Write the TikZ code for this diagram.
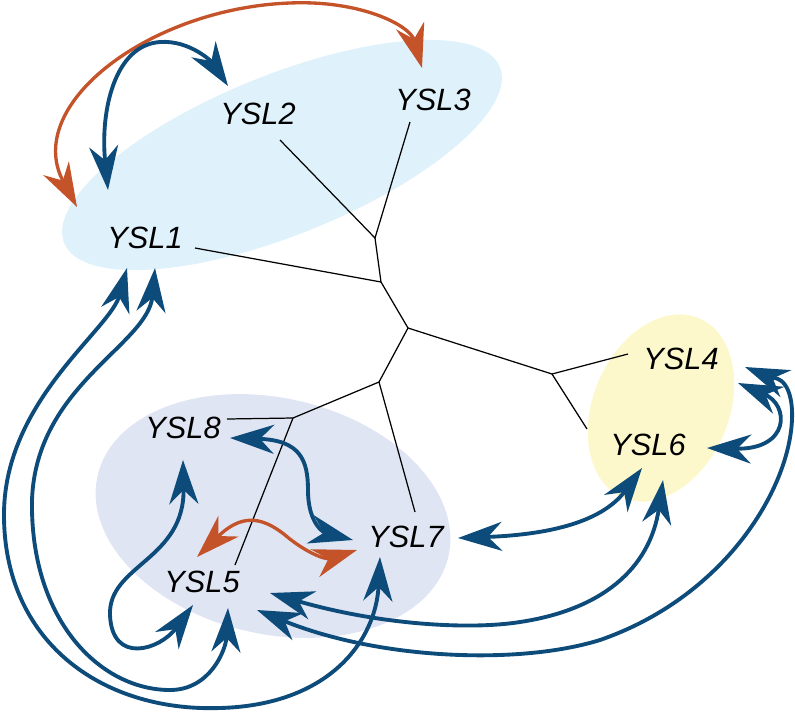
\documentclass[tikz,border=0pt]{standalone}
\usepackage{fontspec}
\setmainfont{Liberation Sans}
\usetikzlibrary{arrows.meta}
\definecolor{linkblue}{HTML}{0D4B7B}
\definecolor{linkorange}{HTML}{C4532A}
\definecolor{skyfill}{HTML}{DFF1FB}
\definecolor{lavfill}{HTML}{E0E5F3}
\definecolor{yelfill}{HTML}{FDF8CC}
\begin{document}
\begin{tikzpicture}[x=0.02cm,y=-0.02cm,
        >={Stealth[length=0.88cm,width=0.58cm,inset=0.28cm]},
        lab/.style={font=\itshape\fontsize{17.5}{21}\selectfont,inner sep=1pt},
        branch/.style={black,line width=0.7pt},
        blink/.style={<->,linkblue,line width=2.2pt},
        olink/.style={<->,linkorange,line width=1.9pt}]
    \useasboundingbox (0,0) rectangle (795,714);
    \fill[skyfill,rotate around={22:(282,155)}] (282,155) ellipse [x radius=4.7cm,y radius=1.6cm];
    \fill[lavfill,rotate around={-13:(273,516)}] (273,516) ellipse [x radius=3.6cm,y radius=2.36cm];
    \fill[yelfill,rotate around={67:(661,408)}] (661,408) ellipse [x radius=1.95cm,y radius=1.36cm];
    \node[lab] (ysl1) at (145,238) {YSL1};
    \node[lab] (ysl2) at (258,114) {YSL2};
    \node[lab] (ysl3) at (433,100) {YSL3};
    \node[lab] (ysl4) at (681,359) {YSL4};
    \node[lab] (ysl6) at (648,445) {YSL6};
    \node[lab] (ysl7) at (406,537) {YSL7};
    \node[lab] (ysl8) at (183,428) {YSL8};
    \node[lab] (ysl5) at (202,582) {YSL5};
    \coordinate (jA) at (375,238);
    \coordinate (jB) at (381,282);
    \coordinate (jC) at (408,328);
    \coordinate (jD) at (552,374);
    \coordinate (jE) at (379,382);
    \coordinate (jF) at (293,418);
    \draw[branch] ([shift={(22,26)}]ysl2.center) -- (jA) -- ([shift={(-23,22)}]ysl3.center);
    \draw[branch] (jA) -- (jB) -- (jC) -- (jE) -- (jF);
    \draw[branch] ([shift={(50,10)}]ysl1.center) -- (jB);
    \draw[branch] (jC) -- (jD) -- ([shift={(-53,-5)}]ysl4.center);
    \draw[branch] (jD) -- ([shift={(-61,-16)}]ysl6.center);
    \draw[branch] (jE) -- ([shift={(9,-25)}]ysl7.center);
    \draw[branch] ([shift={(44,-9)}]ysl8.center) -- (jF) -- ([shift={(33,-17)}]ysl5.center);
    \draw[olink] ([shift={(-68,-31)}]ysl1.center) .. controls (22,105) and (150,8) .. (290,3)
        .. controls (360,0) and (410,25) .. ([shift={(-11,-32)}]ysl3.center);
    \draw[blink] ([shift={(-37,-48)}]ysl1.center) .. controls (100,110) and (115,45) .. (160,42)
        .. controls (190,40) and (212,62) .. ([shift={(-30,-28)}]ysl2.center);
    \draw[blink] ([shift={(-18,30)}]ysl1.center) .. controls (110,330) and (5,400) .. (4,513)
        .. controls (3,640) and (100,712) .. (220,708)
        .. controls (330,705) and (376,640) .. ([shift={(-26,20)}]ysl7.center);
    \draw[blink] ([shift={(10,30)}]ysl1.center) .. controls (148,345) and (36,385) .. (32,500)
        .. controls (30,620) and (100,690) .. (170,690)
        .. controls (210,690) and (226,650) .. ([shift={(26,26)}]ysl5.center);
    \draw[blink] ([shift={(0,32)}]ysl8.center) .. controls (185,560) and (108,565) .. (110,615)
        .. controls (112,665) and (160,650) .. ([shift={(-9,23)}]ysl5.center);
    \draw[blink] ([shift={(47,10)}]ysl8.center) .. controls (300,440) and (308,460) .. (308,490)
        .. controls (308,525) and (325,533) .. ([shift={(-53,3)}]ysl7.center);
    \draw[olink] ([shift={(-5,-25)}]ysl5.center) .. controls (240,515) and (260,515) .. (285,535)
        .. controls (305,552) and (325,560) .. ([shift={(-49,13)}]ysl7.center);
    \draw[blink] ([shift={(52,1)}]ysl7.center) .. controls (540,535) and (600,525) .. ([shift={(-6,23)}]ysl6.center);
    \draw[blink] ([shift={(68,11)}]ysl5.center) .. controls (380,625) and (470,630) .. (520,622)
        .. controls (600,610) and (650,570) .. ([shift={(15,35)}]ysl6.center);
    \draw[blink] ([shift={(55,28)}]ysl5.center) .. controls (380,660) and (520,665) .. (600,640)
        .. controls (730,595) and (795,480) .. (792,410)
        .. controls (790,375) and (772,378) .. ([shift={(64,8)}]ysl4.center);
    \draw[blink] ([shift={(57,24)}]ysl4.center) .. controls (790,405) and (790,450) .. ([shift={(59,3)}]ysl6.center);
\end{tikzpicture}
\end{document}
